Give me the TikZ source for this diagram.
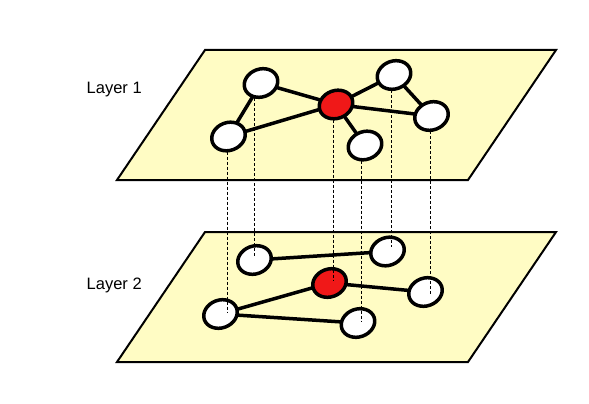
\documentclass[tikz,border=0pt]{standalone}
\usepackage{fontspec}
\setmainfont{Liberation Sans}
\usetikzlibrary{shapes.geometric,calc}
\definecolor{planecol}{RGB}{255,252,196}
\definecolor{hubcol}{RGB}{240,24,24}
\pgfdeclarelayer{planes}
\pgfdeclarelayer{edgesB}
\pgfdeclarelayer{nodesB}
\pgfdeclarelayer{links}
\pgfdeclarelayer{edgesA}
\pgfsetlayers{planes,edgesB,nodesB,links,edgesA,main}
\begin{document}
\begin{tikzpicture}[x=1pt,y=-1pt,
  plane/.style={fill=planecol, draw=black, line width=2pt, line join=miter},
  vert/.style={ellipse, draw=black, line width=3.5pt, fill=white, minimum width=34.2pt, minimum height=27.8pt, inner sep=0pt, rotate=20},
  hubv/.style={vert, fill=hubcol},
  edgeline/.style={line width=3.5pt},
  vlink/.style={line width=0.8pt, dash pattern=on 3pt off 2pt},
  lbl/.style={font=\fontsize{16.5}{19}\selectfont, anchor=base west, inner sep=0pt}]
\useasboundingbox (0,0) rectangle (589,404);

\begin{pgfonlayer}{planes}
\draw[plane] (205,50) -- (556,50) -- (468,180) -- (117,180) -- cycle;
\draw[plane] (205,232) -- (556,232) -- (468,362) -- (117,362) -- cycle;
\end{pgfonlayer}

\node[lbl] (l1) at (86.5,93) {Layer 1};
\node[lbl] (l2) at (86.5,289) {Layer 2};

% layer 1 nodes
\node[vert] (a) at (261,83) {};
\node[vert] (b) at (228.5,136.5) {};
\node[hubv] (c) at (336,104.5) {};
\node[vert] (d) at (394,75) {};
\node[vert] (e) at (431.5,116) {};
\node[vert] (f) at (365,145.5) {};

% layer 2 nodes
\begin{pgfonlayer}{nodesB}
\node[vert] (a2) at (254.5,260) {};
\node[vert] (b2) at (220.5,314) {};
\node[hubv] (c2) at (329.5,283) {};
\node[vert] (d2) at (387.5,251.5) {};
\node[vert] (e2) at (425.5,292) {};
\node[vert] (f2) at (358,323) {};
\end{pgfonlayer}

\begin{pgfonlayer}{edgesA}
\draw[edgeline] (a.center) -- (b.center);
\draw[edgeline] (a.center) -- (c.center);
\draw[edgeline] (b.center) -- (c.center);
\draw[edgeline] (c.center) -- (d.center);
\draw[edgeline] (c.center) -- (e.center);
\draw[edgeline] (c.center) -- (f.center);
\draw[edgeline] (d.center) -- (e.center);
\end{pgfonlayer}

\begin{pgfonlayer}{edgesB}
\draw[edgeline] (a2.center) -- (d2.center);
\draw[edgeline] (c2.center) -- (b2.center);
\draw[edgeline] (c2.center) -- (e2.center);
\draw[edgeline] (b2.center) -- (f2.center);
\end{pgfonlayer}

\begin{pgfonlayer}{links}
\draw[vlink] ($(a.center)+(-7,0)$) -- ($(a.center |- a2.center)+(-7,-3)$);
\draw[vlink] ($(b.center)+(-1.5,0)$) -- ($(b.center |- b2.center)+(-1.5,-2)$);
\draw[vlink] ($(c.center)+(-3,0)$) -- ($(c.center |- c2.center)+(-3,-3)$);
\draw[vlink] ($(d.center)+(-3,0)$) -- ($(d.center |- d2.center)+(-3,-4.5)$);
\draw[vlink] ($(e.center)+(-1.5,0)$) -- ($(e.center |- e2.center)+(-1.5,3)$);
\draw[vlink] ($(f.center)+(-3.5,0)$) -- ($(f.center |- f2.center)+(-3.5,-2)$);
\end{pgfonlayer}
\end{tikzpicture}
\end{document}
